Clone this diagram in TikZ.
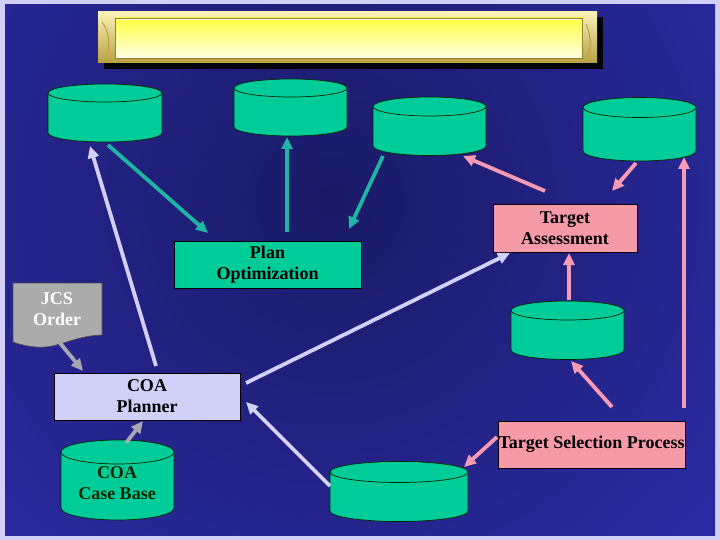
\documentclass[tikz,border=0pt]{standalone}
\usepackage{fontspec}
\setmainfont{Liberation Serif}
\usetikzlibrary{arrows.meta,calc}
\definecolor{framecol}{HTML}{D0D0F8}
\definecolor{bgdark}{HTML}{1A1A66}
\definecolor{bglight}{HTML}{3434C6}
\definecolor{drumgreen}{HTML}{00CC99}
\definecolor{tealarrow}{HTML}{1FB5A5}
\definecolor{pinkarrow}{HTML}{F79AB4}
\definecolor{pinkbox}{HTML}{F79AA8}
\definecolor{lavarrow}{HTML}{D0D0F8}
\definecolor{lavbox}{HTML}{D0D0F8}
\definecolor{grayarrow}{HTML}{A8A8B4}
\definecolor{jcsgray}{HTML}{ABABAB}
\definecolor{goldlight}{HTML}{FAF2B8}
\definecolor{golddark}{HTML}{B8A040}
\definecolor{yelltop}{HTML}{FFFF40}
\definecolor{yellbot}{HTML}{FFFFE4}
\newcommand\drum[6]{%
  \filldraw[drumbody] (#2-#5,#3) -- (#2-#5,#4) arc[start angle=180,end angle=360,x radius=#5pt,y radius=#6pt] -- (#2+#5,#3) -- cycle;
  \filldraw[drumbody] (#2,#3) ellipse[x radius=#5pt,y radius=#6pt];
  \node[inner sep=0pt, outer sep=0pt, minimum width={2*#5*1pt}, minimum height={(#4-#3+2*#6)*1pt}] (#1) at (#2,{(#3+#4)/2}) {};
}
\begin{document}
\begin{tikzpicture}[x=1pt,y=-1pt,
  font=\bfseries\fontsize{18}{21}\selectfont,
  drumbody/.style={fill=drumgreen, draw=black!85!green, line width=0.7pt},
  box/.style={draw=black, line width=0.8pt, inner sep=0pt, outer sep=0pt, align=center, text=black},
  arr/.style={line width=3.8pt, -{Triangle[length=12pt,width=11pt]}},
  tealarr/.style={arr, draw=tealarrow, color=tealarrow},
  pinkarr/.style={arr, draw=pinkarrow, color=pinkarrow},
  lavarr/.style={arr, draw=lavarrow, color=lavarrow},
  grayarr/.style={arr, draw=grayarrow, color=grayarrow}]
\useasboundingbox (0,0) rectangle (720,540);
% background
\fill[framecol] (0,0) rectangle (720,540);
\begin{scope}
  \clip (5,5) rectangle (715,535);
  \shade[inner color=bgdark, outer color=bglight] (330,200) circle (780pt);
\end{scope}
% title banner
\fill[black] (104,17) rectangle (603,69);
\shade[top color=goldlight, bottom color=golddark] (98,12) rectangle (597,63);
\shade[top color=yelltop, bottom color=yellbot] (115,18) rectangle (582,58);
\draw[white, line width=1pt] (117,20) -- (580,20);
\draw[golddark!80!black, line width=0.8pt] (115,18) rectangle (582,58);
\draw[golddark, line width=1pt] (102,22) .. controls (108,30) and (110,40) .. (108,52);
\draw[golddark, line width=1pt] (586,24) .. controls (590,34) and (592,44) .. (588,56);
% drums
\drum{c1}{105}{93}{133}{57}{9}
\drum{c2}{290.5}{88}{127}{56.5}{9}
\drum{c3}{429.5}{106.5}{146}{56.5}{9.5}
\drum{c4}{639.5}{107.5}{151}{56.5}{10}
\drum{c5}{567.5}{310.5}{350}{56.5}{9.5}
\drum{c6}{399}{472}{511}{69}{10.5}
\drum{cb}{117.5}{452}{508}{56.5}{12}
\node[align=center, text=black!85!green] at (117,483) {COA\\Case Base};
% boxes
\node[box, fill=drumgreen, minimum width=187pt, minimum height=47pt] (po) at (267.5,264.5) {Plan\\Optimization};
\node[box, fill=pinkbox, minimum width=144pt, minimum height=48pt] (ta) at (565,228) {Target\\Assessment};
\node[box, fill=pinkbox, minimum width=187pt, minimum height=47pt] (tsp) at (591.5,444.5) {Target Selection Process};
\node[box, fill=lavbox, minimum width=186pt, minimum height=47pt] (cp) at (147,396.5) {COA\\Planner};
% JCS Order document
\filldraw[fill=jcsgray, draw=black!70, line width=0.6pt] (13,283) -- (102,283) -- (102,335)
  .. controls (72,336) and (58,349) .. (36,347) .. controls (26,346) and (18,344) .. (13,342) -- cycle;
\node[inner sep=0pt, outer sep=0pt, minimum width=89pt, minimum height=60pt] (jcs) at (57.5,313) {};
\node[align=center, text=white] at (57,309) {JCS\\Order};
% teal arrows
\draw[tealarr] ($(c1.south)+(3,3)$) -- ($(po.north)+(-59.5,-8)$);
\draw[tealarr] ($(po.north)+(19.5,-9)$) -- ($(c2.south)+(-3.5,1)$);
\draw[tealarr] ($(c3.south)+(-46.5,0.5)$) -- ($(po.north)+(81.5,-12)$);
% pink arrows
\draw[pinkarr] ($(ta.north)+(-20,-13)$) -- ($(c3.south)+(33.5,0.5)$);
\draw[pinkarr] ($(c4.south)+(-3.5,2)$) -- ($(ta.north)+(47,-13)$);
\draw[pinkarr] ($(tsp.north)+(92.5,-13)$) -- ($(c4.south)+(44.5,-4)$);
\draw[pinkarr] ($(c5.north)+(1.5,-1)$) -- ($(ta.south)+(4,1)$);
\draw[pinkarr] ($(tsp.north)+(20.5,-14)$) -- ($(c5.south)+(3.5,1.5)$);
\draw[pinkarr] ($(tsp.west)+(-1,-7.5)$) -- ($(c6.north east)+(-4,5.5)$);
% lavender arrows
\draw[lavarr] ($(cp.north)+(9,-7)$) -- ($(c1.south)+(-15,4)$);
\draw[lavarr] ($(cp.east)+(6,-13.5)$) -- ($(ta.south west)+(17,1)$);
\draw[lavarr] ($(c6.west)+(0,-5.5)$) -- ($(cp.east)+(6,5.5)$);
% gray arrows
\draw[grayarr] ($(jcs.south)+(2.5,0)$) -- ($(cp.north west)+(29,-2)$);
\draw[grayarr] ($(cb.north)+(8.5,3)$) -- ($(cp.south)+(-4,1)$);
\end{tikzpicture}
\end{document}
